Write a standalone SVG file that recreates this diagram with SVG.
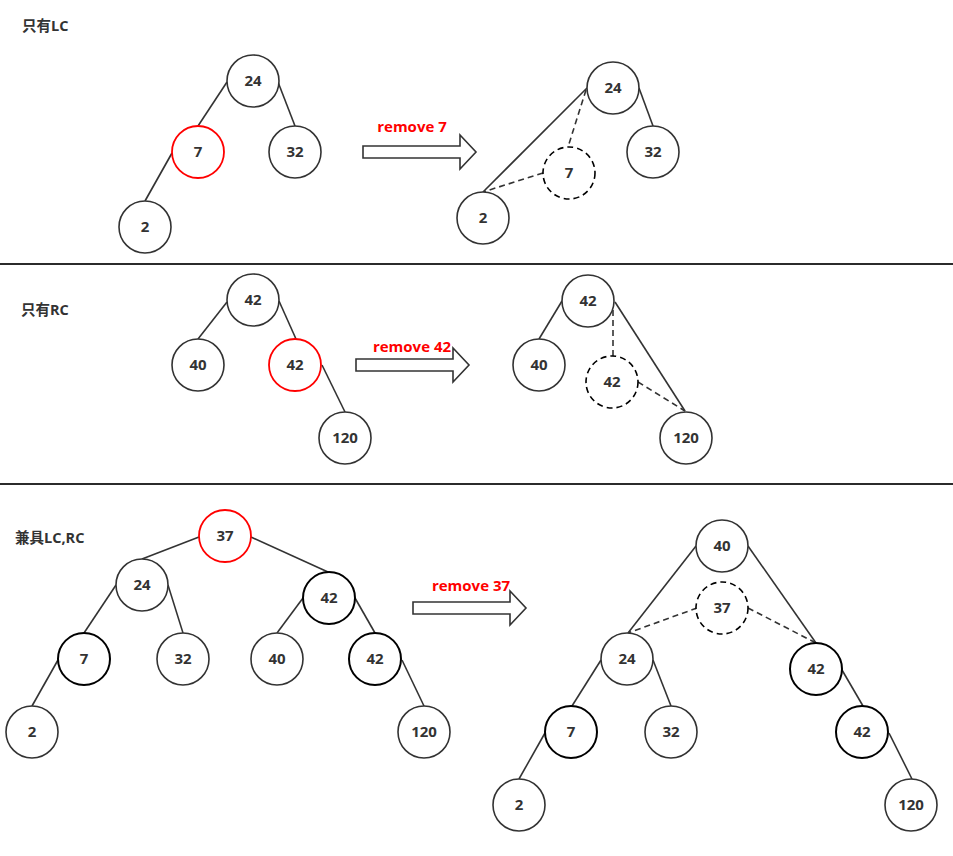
<svg xmlns="http://www.w3.org/2000/svg" width="953" height="856" viewBox="0 0 953 856">
<style>
.n{fill:#fff;stroke:#333;stroke-width:1.6}
.r{fill:#fff;stroke:#ff0000;stroke-width:1.8}
.k{fill:#fff;stroke:#000;stroke-width:2}
.d{fill:#fff;stroke:#000;stroke-width:1.6;stroke-dasharray:6 4}
.e{stroke:#333;stroke-width:1.6;fill:none}
.ed{stroke:#333;stroke-width:1.6;fill:none;stroke-dasharray:6 4}
.t{font-family:"Open Sans","Noto Sans CJK SC",sans-serif;font-weight:bold;font-size:15px;fill:#333;text-anchor:middle}
.lb{font-family:"Open Sans","Noto Sans CJK SC",sans-serif;font-weight:bold;font-size:14.5px;fill:#333}
.rm{font-family:"Open Sans","Noto Sans CJK SC",sans-serif;font-weight:bold;font-size:15px;fill:#ff0000;text-anchor:middle}
.ar{fill:#fff;stroke:#333;stroke-width:1.6}
.sep{stroke:#2b2b2b;stroke-width:2}
</style>
<defs>
<polygon id="bigArrow" points="0,-6 97,-6 97,-17 113,0 97,17 97,6 0,6"/>
</defs>

<g id="separators">
<line class="sep" x1="0" y1="264" x2="953" y2="264"/>
<line class="sep" x1="0" y1="484" x2="953" y2="484"/>
</g>

<g id="labels">
<text class="lb" x="22" y="31">只有LC</text>
<text class="lb" x="21" y="315">只有RC</text>
<text class="lb" x="15" y="543">兼具LC,RC</text>
</g>

<g id="connectors">
<!-- section 1 left -->
<line class="e" x1="227" y1="82" x2="198" y2="126"/>
<line class="e" x1="278" y1="82" x2="295" y2="126"/>
<line class="e" x1="172" y1="153" x2="145" y2="201"/>
<!-- section 1 right -->
<line class="e" x1="587" y1="88" x2="483" y2="192"/>
<line class="e" x1="639" y1="88" x2="653" y2="126"/>
<polyline class="ed" points="586,90 568,147"/>
<polyline class="ed" points="543,173 483,192"/>
<!-- section 2 left -->
<line class="e" x1="227" y1="302" x2="198" y2="339"/>
<line class="e" x1="279" y1="301" x2="296" y2="339"/>
<line class="e" x1="322" y1="365" x2="345" y2="412"/>
<!-- section 2 right -->
<line class="e" x1="562" y1="301" x2="539" y2="339"/>
<line class="e" x1="615" y1="302" x2="685" y2="411"/>
<polyline class="ed" points="613,310 613,356"/>
<polyline class="ed" points="638,382 685,411"/>
<!-- section 3 left -->
<line class="e" x1="199" y1="537" x2="142" y2="559"/>
<line class="e" x1="251" y1="537" x2="328" y2="572"/>
<line class="e" x1="116" y1="585" x2="84" y2="633"/>
<line class="e" x1="168" y1="585" x2="183" y2="633"/>
<line class="e" x1="303" y1="598" x2="277" y2="633"/>
<line class="e" x1="355" y1="598" x2="375" y2="633"/>
<line class="e" x1="58" y1="660" x2="32" y2="706"/>
<line class="e" x1="402" y1="660" x2="424" y2="706"/>
<!-- section 3 right -->
<line class="e" x1="696" y1="546" x2="628" y2="633"/>
<line class="e" x1="748" y1="546" x2="816" y2="643"/>
<polyline class="ed" points="697,608 628,633"/>
<polyline class="ed" points="748,608 816,643"/>
<line class="e" x1="601" y1="660" x2="572" y2="706"/>
<line class="e" x1="653" y1="660" x2="671" y2="706"/>
<line class="e" x1="545" y1="733" x2="519" y2="779"/>
<line class="e" x1="842" y1="670" x2="863" y2="706"/>
<line class="e" x1="889" y1="733" x2="912" y2="779"/>
</g>

<g id="arrows">
<use href="#bigArrow" class="ar" x="363" y="152"/>
<text class="rm" x="412" y="132">remove 7</text>
<use href="#bigArrow" class="ar" x="356" y="365"/>
<text class="rm" x="412" y="352">remove 42</text>
<use href="#bigArrow" class="ar" x="413" y="608"/>
<text class="rm" x="471" y="591">remove 37</text>
</g>

<!-- section 1 left -->
<g id="s1a-24"><circle class="n" cx="253" cy="81" r="26"/><text class="t" x="253" y="86">24</text></g>
<g id="s1a-7"><circle class="r" cx="198" cy="152" r="26"/><text class="t" x="198" y="157">7</text></g>
<g id="s1a-32"><circle class="n" cx="295" cy="152" r="26"/><text class="t" x="295" y="157">32</text></g>
<g id="s1a-2"><circle class="n" cx="145" cy="227" r="26"/><text class="t" x="145" y="232">2</text></g>
<!-- section 1 right -->
<g id="s1b-24"><circle class="n" cx="613" cy="88" r="26"/><text class="t" x="613" y="93">24</text></g>
<g id="s1b-32"><circle class="n" cx="653" cy="152" r="26"/><text class="t" x="653" y="157">32</text></g>
<g id="s1b-7"><circle class="d" cx="569" cy="173" r="26"/><text class="t" x="569" y="178">7</text></g>
<g id="s1b-2"><circle class="n" cx="483" cy="218" r="26"/><text class="t" x="483" y="223">2</text></g>
<!-- section 2 left -->
<g id="s2a-42"><circle class="n" cx="253" cy="300" r="26"/><text class="t" x="253" y="305">42</text></g>
<g id="s2a-40"><circle class="n" cx="198" cy="365" r="26"/><text class="t" x="198" y="370">40</text></g>
<g id="s2a-42b"><circle class="r" cx="295" cy="365" r="26"/><text class="t" x="295" y="370">42</text></g>
<g id="s2a-120"><circle class="n" cx="345" cy="438" r="26"/><text class="t" x="345" y="443">120</text></g>
<!-- section 2 right -->
<g id="s2b-42"><circle class="n" cx="588" cy="301" r="26"/><text class="t" x="588" y="306">42</text></g>
<g id="s2b-40"><circle class="n" cx="539" cy="365" r="26"/><text class="t" x="539" y="370">40</text></g>
<g id="s2b-42b"><circle class="d" cx="612" cy="382" r="26"/><text class="t" x="612" y="387">42</text></g>
<g id="s2b-120"><circle class="n" cx="686" cy="438" r="26"/><text class="t" x="686" y="443">120</text></g>
<!-- section 3 left -->
<g id="s3a-37"><circle class="r" cx="225" cy="536" r="26"/><text class="t" x="225" y="541">37</text></g>
<g id="s3a-24"><circle class="n" cx="142" cy="585" r="26"/><text class="t" x="142" y="590">24</text></g>
<g id="s3a-42"><circle class="k" cx="329" cy="598" r="26"/><text class="t" x="329" y="603">42</text></g>
<g id="s3a-7"><circle class="k" cx="84" cy="659" r="26"/><text class="t" x="84" y="664">7</text></g>
<g id="s3a-32"><circle class="n" cx="183" cy="659" r="26"/><text class="t" x="183" y="664">32</text></g>
<g id="s3a-40"><circle class="n" cx="277" cy="659" r="26"/><text class="t" x="277" y="664">40</text></g>
<g id="s3a-42b"><circle class="k" cx="375" cy="659" r="26"/><text class="t" x="375" y="664">42</text></g>
<g id="s3a-2"><circle class="n" cx="32" cy="732" r="26"/><text class="t" x="32" y="737">2</text></g>
<g id="s3a-120"><circle class="n" cx="424" cy="732" r="26"/><text class="t" x="424" y="737">120</text></g>
<!-- section 3 right -->
<g id="s3b-40"><circle class="n" cx="722" cy="546" r="26"/><text class="t" x="722" y="551">40</text></g>
<g id="s3b-37"><circle class="d" cx="722" cy="608" r="26"/><text class="t" x="722" y="613">37</text></g>
<g id="s3b-24"><circle class="n" cx="627" cy="659" r="26"/><text class="t" x="627" y="664">24</text></g>
<g id="s3b-42"><circle class="k" cx="816" cy="669" r="26"/><text class="t" x="816" y="674">42</text></g>
<g id="s3b-7"><circle class="k" cx="571" cy="732" r="26"/><text class="t" x="571" y="737">7</text></g>
<g id="s3b-32"><circle class="n" cx="671" cy="732" r="26"/><text class="t" x="671" y="737">32</text></g>
<g id="s3b-42b"><circle class="k" cx="862" cy="732" r="26"/><text class="t" x="862" y="737">42</text></g>
<g id="s3b-2"><circle class="n" cx="519" cy="805" r="26"/><text class="t" x="519" y="810">2</text></g>
<g id="s3b-120"><circle class="n" cx="911" cy="805" r="26"/><text class="t" x="911" y="810">120</text></g>
</svg>
